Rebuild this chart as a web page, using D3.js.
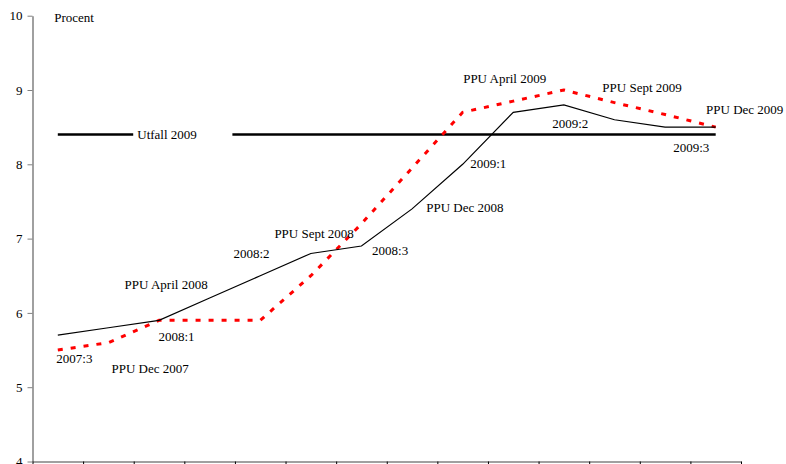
<!DOCTYPE html>
<html>
<head>
<meta charset="utf-8">
<script src="https://cdn.jsdelivr.net/npm/d3@7"></script>
<style>
  html, body { margin: 0; padding: 0; background: #fff; }
</style>
</head>
<body>
<svg id="chart" width="786" height="464"></svg>
<script>
// ---- data ----
const quarters = ["2007:3","2007:4","2008:1","2008:2","2008:3","2008:4","2009:1","2009:2","2009:3","2009:4","2010:1","2010:2","2010:3","2010:4"];
const outcomeSeries = [5.7, 5.8, 5.9, 6.2, 6.5, 6.8, 6.9, 7.4, 8.0, 8.7, 8.8, 8.6, 8.5, 8.5];
const forecastSeries = [5.5, 5.6, 5.9, 5.9, 5.9, 6.5, 7.2, 7.95, 8.7, 8.85, 9.0, 8.83, 8.67, 8.5];
const utfall2009 = 8.4;
const utfallGap = [1.49, 3.45];
const yTicks = [4, 5, 6, 7, 8, 9, 10];
const annotations = [
  {text: "Procent", i: -0.07, v: 9.92},
  {text: "Utfall 2009", i: 1.57, v: 8.34},
  {text: "PPU April 2008", i: 1.32, v: 6.32},
  {text: "2008:1", i: 1.99, v: 5.62},
  {text: "2007:3", i: -0.03, v: 5.33},
  {text: "PPU Dec 2007", i: 1.06, v: 5.19},
  {text: "2008:2", i: 3.47, v: 6.74},
  {text: "PPU Sept 2008", i: 4.28, v: 7.01},
  {text: "2008:3", i: 6.21, v: 6.78},
  {text: "PPU Dec 2008", i: 7.28, v: 7.36},
  {text: "2009:1", i: 8.15, v: 7.95},
  {text: "PPU April 2009", i: 8.01, v: 9.09},
  {text: "2009:2", i: 9.77, v: 8.49},
  {text: "PPU Sept 2009", i: 10.76, v: 8.97},
  {text: "PPU Dec 2009", i: 12.81, v: 8.68},
  {text: "2009:3", i: 12.16, v: 8.17}
];

// ---- layout ----
const FONT = "Liberation Serif, Times New Roman, serif";
const svg = d3.select("#chart");
const plotLeft = 32.5, plotRight = 741, plotTop = 15.7, plotBottom = 461.5;

const x = d3.scaleBand().domain(quarters).range([plotLeft, plotRight]).padding(0);
const xi = d3.scaleLinear().domain([-0.5, quarters.length - 0.5]).range([plotLeft, plotRight]);
const y = d3.scaleLinear().domain([4, 10]).range([plotBottom, plotTop]);

// axes
const yAxis = svg.append("g").attr("transform", `translate(${plotLeft},0)`)
  .call(d3.axisLeft(y).tickValues(yTicks).tickSize(5).tickSizeOuter(0).tickPadding(5).tickFormat(d3.format("d")));
yAxis.select(".domain").attr("stroke", "#808080").attr("stroke-width", 1.5);
yAxis.selectAll(".tick line").attr("stroke", "#808080");
yAxis.selectAll(".tick text").attr("font-family", FONT).attr("font-size", 13).attr("fill", "#000");

const xAxis = svg.append("g").attr("transform", `translate(0,${plotBottom})`)
  .call(d3.axisBottom(xi).tickValues(d3.range(-0.5, quarters.length, 1)).tickSize(5).tickSizeOuter(0).tickFormat(""));
xAxis.select(".domain").attr("stroke", "#808080").attr("stroke-width", 1.5);
xAxis.selectAll(".tick line").attr("stroke", "#000");

const cx = (d, k) => x(quarters[k]) + x.bandwidth() / 2;

// outcome 2009 horizontal line (with gap for its label)
const hLine = d3.line().x(d => xi(d)).y(() => y(utfall2009));
[[0, utfallGap[0]], [utfallGap[1], quarters.length - 1]].forEach(seg => {
  svg.append("path").attr("d", hLine(seg))
    .attr("fill", "none").attr("stroke", "#000").attr("stroke-width", 2.5);
});

// forecast (red dashed)
const line = d3.line().x((d, k) => cx(d, k)).y(d => y(d));
svg.append("path").datum(forecastSeries).attr("d", line)
  .attr("fill", "none").attr("stroke", "#ff0000").attr("stroke-width", 3)
  .attr("stroke-dasharray", "5,8");

// outcome (black thin)
svg.append("path").datum(outcomeSeries).attr("d", line)
  .attr("fill", "none").attr("stroke", "#000").attr("stroke-width", 1.2);

// annotations
svg.selectAll("text.ann").data(annotations).enter().append("text")
  .attr("class", "ann")
  .attr("font-family", FONT)
  .attr("font-size", 13)
  .attr("fill", "#000")
  .attr("x", d => xi(d.i))
  .attr("y", d => y(d.v))
  .text(d => d.text);
</script>
</body>
</html>
